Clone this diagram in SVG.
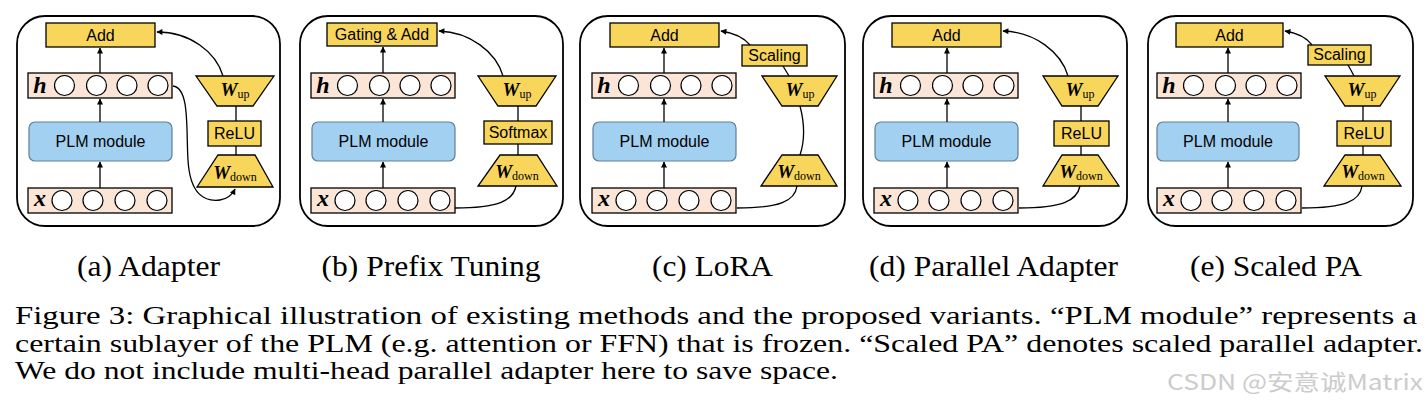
<svg xmlns="http://www.w3.org/2000/svg" width="1428" height="410" viewBox="0 0 1428 410">
<defs>
<style>
.frame{fill:#fff;stroke:#000;stroke-width:1.8}
.yb{fill:#f8d65c;stroke:#000;stroke-width:1.3}
.row{fill:#fbe5d6;stroke:#000;stroke-width:1.3}
.cir{fill:#fff;stroke:#000;stroke-width:1.2}
.plm{fill:#a2d0f0;stroke:#5f7f99;stroke-width:1.2}
.lbl{font-family:"Liberation Sans",Arial,sans-serif;font-size:16px;fill:#000;text-anchor:middle}
.var{font-family:"Liberation Serif","Times New Roman",serif;font-weight:bold;font-style:italic;font-size:24px;fill:#000;text-anchor:middle}
.w{font-family:"Liberation Serif","Times New Roman",serif;font-size:19px;fill:#000;text-anchor:middle}
.w .b{font-weight:bold;font-style:italic}
.w .s{font-size:12px}
.con{fill:none;stroke:#000;stroke-width:1.3}
.cap{font-family:"Liberation Serif","Times New Roman",serif;font-size:30px;fill:#000;text-anchor:middle}
.body{font-family:"Liberation Serif","Times New Roman",serif;font-size:24.5px;fill:#000}
.wm{font-family:"Noto Sans CJK SC","Noto Sans",sans-serif;font-size:22px;fill:#cccccc}
</style>
<marker id="ah" viewBox="0 0 10 10" refX="9" refY="5" markerWidth="7" markerHeight="6" markerUnits="userSpaceOnUse" orient="auto"><path d="M0,0 L10,5 L0,10 z" fill="#000"/></marker>
</defs>
<rect width="1428" height="410" fill="#fff"/>

<!-- Panel (a) -->
<g id="panel-a">
<g id="a-frame"><rect class="frame" x="17" y="16" width="263" height="210" rx="28"/></g>
<g id="a-add"><rect class="yb" x="46" y="23" width="109" height="24"/><text class="lbl" x="100.5" y="41">Add</text></g>
<g id="a-h"><rect class="row" x="28" y="73" width="144" height="25"/><text class="var" x="40" y="93">h</text>
<circle class="cir" cx="64.5" cy="85.5" r="10"/><circle class="cir" cx="96.5" cy="85.5" r="10"/><circle class="cir" cx="127" cy="85.5" r="10"/><circle class="cir" cx="158" cy="85.5" r="10"/></g>
<g id="a-plm"><rect class="plm" x="29" y="122" width="143" height="39" rx="6"/><text class="lbl" x="100.5" y="147">PLM module</text></g>
<g id="a-x"><rect class="row" x="28" y="188" width="144" height="25"/><text class="var" x="40" y="206">x</text>
<circle class="cir" cx="62" cy="200.5" r="10"/><circle class="cir" cx="93" cy="200.5" r="10"/><circle class="cir" cx="125" cy="200.5" r="10"/><circle class="cir" cx="157" cy="200.5" r="10"/></g>
<g id="a-wup"><polygon class="yb" points="196,76 274,76 253,106 217,106"/><text class="w" x="235" y="96"><tspan class="b">W</tspan><tspan class="s" dy="2">up</tspan></text></g>
<g id="a-relu"><rect class="yb" x="208" y="121" width="53" height="25"/><text class="lbl" x="234.5" y="139">ReLU</text></g>
<g id="a-wdown"><polygon class="yb" points="218,155 255,155 273,187 197,187"/><text class="w" x="235" y="179"><tspan class="b">W</tspan><tspan class="s" dy="2">down</tspan></text></g>
</g>

<!-- Panel (b) -->
<g id="panel-b" transform="translate(283,0)">
<g id="b-frame"><rect class="frame" x="17" y="16" width="263" height="210" rx="28"/></g>
<g id="b-add"><rect class="yb" x="44" y="23" width="110" height="23"/><text class="lbl" x="99" y="40">Gating &amp; Add</text></g>
<g id="b-h"><rect class="row" x="28" y="73" width="144" height="25"/><text class="var" x="40" y="93">h</text>
<circle class="cir" cx="64.5" cy="85.5" r="10"/><circle class="cir" cx="96.5" cy="85.5" r="10"/><circle class="cir" cx="127" cy="85.5" r="10"/><circle class="cir" cx="158" cy="85.5" r="10"/></g>
<g id="b-plm"><rect class="plm" x="29" y="122" width="143" height="39" rx="6"/><text class="lbl" x="100.5" y="147">PLM module</text></g>
<g id="b-x"><rect class="row" x="28" y="188" width="144" height="25"/><text class="var" x="40" y="206">x</text>
<circle class="cir" cx="62" cy="200.5" r="10"/><circle class="cir" cx="93" cy="200.5" r="10"/><circle class="cir" cx="125" cy="200.5" r="10"/><circle class="cir" cx="157" cy="200.5" r="10"/></g>
<g id="b-wup"><polygon class="yb" points="195,76 273,76 253,106 215,106"/><text class="w" x="234" y="96"><tspan class="b">W</tspan><tspan class="s" dy="2">up</tspan></text></g>
<g id="b-softmax"><rect class="yb" x="201" y="121" width="68" height="23"/><text class="lbl" x="235" y="138">Softmax</text></g>
<g id="b-wdown"><polygon class="yb" points="217,155 254,155 274,186 195,186"/><text class="w" x="234" y="178"><tspan class="b">W</tspan><tspan class="s" dy="2">down</tspan></text></g>
</g>

<!-- Panel (c) -->
<g id="panel-c" transform="translate(564,0)">
<g id="c-frame"><rect class="frame" x="16" y="16" width="265" height="210" rx="28"/></g>
<g id="c-add"><rect class="yb" x="46" y="23" width="109" height="24"/><text class="lbl" x="100.5" y="41">Add</text></g>
<g id="c-scaling"><rect class="yb" x="178" y="45" width="65" height="21"/><text class="lbl" x="210.5" y="61">Scaling</text></g>
<g id="c-h"><rect class="row" x="28" y="73" width="144" height="25"/><text class="var" x="40" y="93">h</text>
<circle class="cir" cx="64.5" cy="85.5" r="10"/><circle class="cir" cx="96.5" cy="85.5" r="10"/><circle class="cir" cx="127" cy="85.5" r="10"/><circle class="cir" cx="158" cy="85.5" r="10"/></g>
<g id="c-plm"><rect class="plm" x="29" y="122" width="143" height="39" rx="6"/><text class="lbl" x="100.5" y="147">PLM module</text></g>
<g id="c-x"><rect class="row" x="28" y="188" width="144" height="25"/><text class="var" x="40" y="206">x</text>
<circle class="cir" cx="62" cy="200.5" r="10"/><circle class="cir" cx="93" cy="200.5" r="10"/><circle class="cir" cx="125" cy="200.5" r="10"/><circle class="cir" cx="157" cy="200.5" r="10"/></g>
<g id="c-wup"><polygon class="yb" points="198,76 273,76 254,106 218,106"/><text class="w" x="236" y="96"><tspan class="b">W</tspan><tspan class="s" dy="2">up</tspan></text></g>
<g id="c-wdown"><polygon class="yb" points="218,155 254,155 273,186 197,186"/><text class="w" x="235" y="178"><tspan class="b">W</tspan><tspan class="s" dy="2">down</tspan></text></g>
</g>

<!-- Panel (d) -->
<g id="panel-d" transform="translate(846,0)">
<g id="d-frame"><rect class="frame" x="17" y="16" width="264" height="210" rx="28"/></g>
<g id="d-add"><rect class="yb" x="46" y="23" width="109" height="24"/><text class="lbl" x="100.5" y="41">Add</text></g>
<g id="d-h"><rect class="row" x="28" y="73" width="144" height="25"/><text class="var" x="40" y="93">h</text>
<circle class="cir" cx="64.5" cy="85.5" r="10"/><circle class="cir" cx="96.5" cy="85.5" r="10"/><circle class="cir" cx="127" cy="85.5" r="10"/><circle class="cir" cx="158" cy="85.5" r="10"/></g>
<g id="d-plm"><rect class="plm" x="29" y="122" width="143" height="39" rx="6"/><text class="lbl" x="100.5" y="147">PLM module</text></g>
<g id="d-x"><rect class="row" x="28" y="188" width="144" height="25"/><text class="var" x="40" y="206">x</text>
<circle class="cir" cx="62" cy="200.5" r="10"/><circle class="cir" cx="93" cy="200.5" r="10"/><circle class="cir" cx="125" cy="200.5" r="10"/><circle class="cir" cx="157" cy="200.5" r="10"/></g>
<g id="d-wup"><polygon class="yb" points="197,76 272,76 252,106 216,106"/><text class="w" x="234" y="96"><tspan class="b">W</tspan><tspan class="s" dy="2">up</tspan></text></g>
<g id="d-relu"><rect class="yb" x="208" y="121" width="55" height="25"/><text class="lbl" x="235.5" y="139">ReLU</text></g>
<g id="d-wdown"><polygon class="yb" points="216,155 252,155 273,186 197,186"/><text class="w" x="235" y="178"><tspan class="b">W</tspan><tspan class="s" dy="2">down</tspan></text></g>
</g>

<!-- Panel (e) -->
<g id="panel-e" transform="translate(1129,0)">
<g id="e-frame"><rect class="frame" x="19" y="16" width="265" height="210" rx="28"/></g>
<g id="e-add"><rect class="yb" x="47" y="23" width="107" height="24"/><text class="lbl" x="100.5" y="41">Add</text></g>
<g id="e-scaling"><rect class="yb" x="179" y="45" width="63" height="20"/><text class="lbl" x="210.5" y="60">Scaling</text></g>
<g id="e-h"><rect class="row" x="28" y="73" width="144" height="25"/><text class="var" x="40" y="93">h</text>
<circle class="cir" cx="64.5" cy="85.5" r="10"/><circle class="cir" cx="96.5" cy="85.5" r="10"/><circle class="cir" cx="127" cy="85.5" r="10"/><circle class="cir" cx="158" cy="85.5" r="10"/></g>
<g id="e-plm"><rect class="plm" x="28" y="122" width="142" height="39" rx="6"/><text class="lbl" x="99" y="147">PLM module</text></g>
<g id="e-x"><rect class="row" x="28" y="188" width="144" height="25"/><text class="var" x="40" y="206">x</text>
<circle class="cir" cx="62" cy="200.5" r="10"/><circle class="cir" cx="93" cy="200.5" r="10"/><circle class="cir" cx="125" cy="200.5" r="10"/><circle class="cir" cx="157" cy="200.5" r="10"/></g>
<g id="e-wup"><polygon class="yb" points="196,76 271,76 251,106 216,106"/><text class="w" x="233" y="96"><tspan class="b">W</tspan><tspan class="s" dy="2">up</tspan></text></g>
<g id="e-relu"><rect class="yb" x="208" y="121" width="54" height="25"/><text class="lbl" x="235" y="139">ReLU</text></g>
<g id="e-wdown"><polygon class="yb" points="216,155 251,155 272,186 195,186"/><text class="w" x="234" y="178"><tspan class="b">W</tspan><tspan class="s" dy="2">down</tspan></text></g>
</g>

<!-- Connectors -->
<g id="connectors" class="con">
<path class="con" d="M100,188 V162" marker-end="url(#ah)"/>
<path class="con" d="M100,122 V99" marker-end="url(#ah)"/>
<path class="con" d="M100,73 V48" marker-end="url(#ah)"/>
<path class="con" d="M223,76 C216,52 190,32 157,32" marker-end="url(#ah)"/>
<path class="con" d="M236,106 V121 M236,146 V155"/>
<path class="con" d="M173,86 C190,88 186,130 188,160 C190,195 205,202 220,200 C227,199 232,195 235,189" marker-end="url(#ah)"/>
<path class="con" d="M383,188 V162" marker-end="url(#ah)"/>
<path class="con" d="M383,122 V99" marker-end="url(#ah)"/>
<path class="con" d="M383,73 V47" marker-end="url(#ah)"/>
<path class="con" d="M503,76 C496,52 470,32 439,31" marker-end="url(#ah)"/>
<path class="con" d="M518,106 V121 M518,144 V155"/>
<path class="con" d="M455,208 C498,208 513,201 516,186"/>
<path class="con" d="M664,188 V162" marker-end="url(#ah)"/>
<path class="con" d="M664,122 V99" marker-end="url(#ah)"/>
<path class="con" d="M664,73 V48" marker-end="url(#ah)"/>
<path class="con" d="M750,45 Q741,34 721,31" marker-end="url(#ah)"/>
<path class="con" d="M783,66 Q786,71 789,76"/>
<path class="con" d="M800,106 C805,125 805,140 800,155"/>
<path class="con" d="M737,208 C780,208 795,201 797,186"/>
<path class="con" d="M947,188 V162" marker-end="url(#ah)"/>
<path class="con" d="M947,122 V99" marker-end="url(#ah)"/>
<path class="con" d="M947,73 V48" marker-end="url(#ah)"/>
<path class="con" d="M1068,76 C1061,52 1035,32 1003,31" marker-end="url(#ah)"/>
<path class="con" d="M1081,106 V121 M1081,146 V155"/>
<path class="con" d="M1019,208 C1062,208 1077,201 1080,186"/>
<path class="con" d="M1228,188 V162" marker-end="url(#ah)"/>
<path class="con" d="M1228,122 V99" marker-end="url(#ah)"/>
<path class="con" d="M1228,73 V48" marker-end="url(#ah)"/>
<path class="con" d="M1312,45 Q1304,34 1285,31" marker-end="url(#ah)"/>
<path class="con" d="M1348,65 Q1351,70 1354,76"/>
<path class="con" d="M1363,106 V121 M1363,146 V155"/>
<path class="con" d="M1302,208 C1345,208 1360,201 1362,186"/>
</g>

<!-- Captions -->
<g id="captions">
<text class="cap" x="148.5" y="276" textLength="143" lengthAdjust="spacingAndGlyphs">(a) Adapter</text>
<text class="cap" x="431" y="276" textLength="219" lengthAdjust="spacingAndGlyphs">(b) Prefix Tuning</text>
<text class="cap" x="712.5" y="276" textLength="121" lengthAdjust="spacingAndGlyphs">(c) LoRA</text>
<text class="cap" x="993.5" y="276" textLength="249" lengthAdjust="spacingAndGlyphs">(d) Parallel Adapter</text>
<text class="cap" x="1276" y="276" textLength="172" lengthAdjust="spacingAndGlyphs">(e) Scaled PA</text>
</g>

<g id="figure-caption">
<text class="body" x="15" y="324" textLength="1402" lengthAdjust="spacingAndGlyphs">Figure 3:  Graphical illustration of existing methods and the proposed variants.  “PLM module” represents a</text>
<text class="body" x="15" y="351.5" textLength="1408" lengthAdjust="spacingAndGlyphs">certain sublayer of the PLM (e.g. attention or FFN) that is frozen. “Scaled PA” denotes scaled parallel adapter.</text>
<text class="body" x="15" y="379" textLength="823" lengthAdjust="spacingAndGlyphs">We do not include multi-head parallel adapter here to save space.</text>
</g>
<text class="wm" x="1167" y="390" textLength="256" lengthAdjust="spacingAndGlyphs">CSDN @安意诚Matrix</text>
</svg>
